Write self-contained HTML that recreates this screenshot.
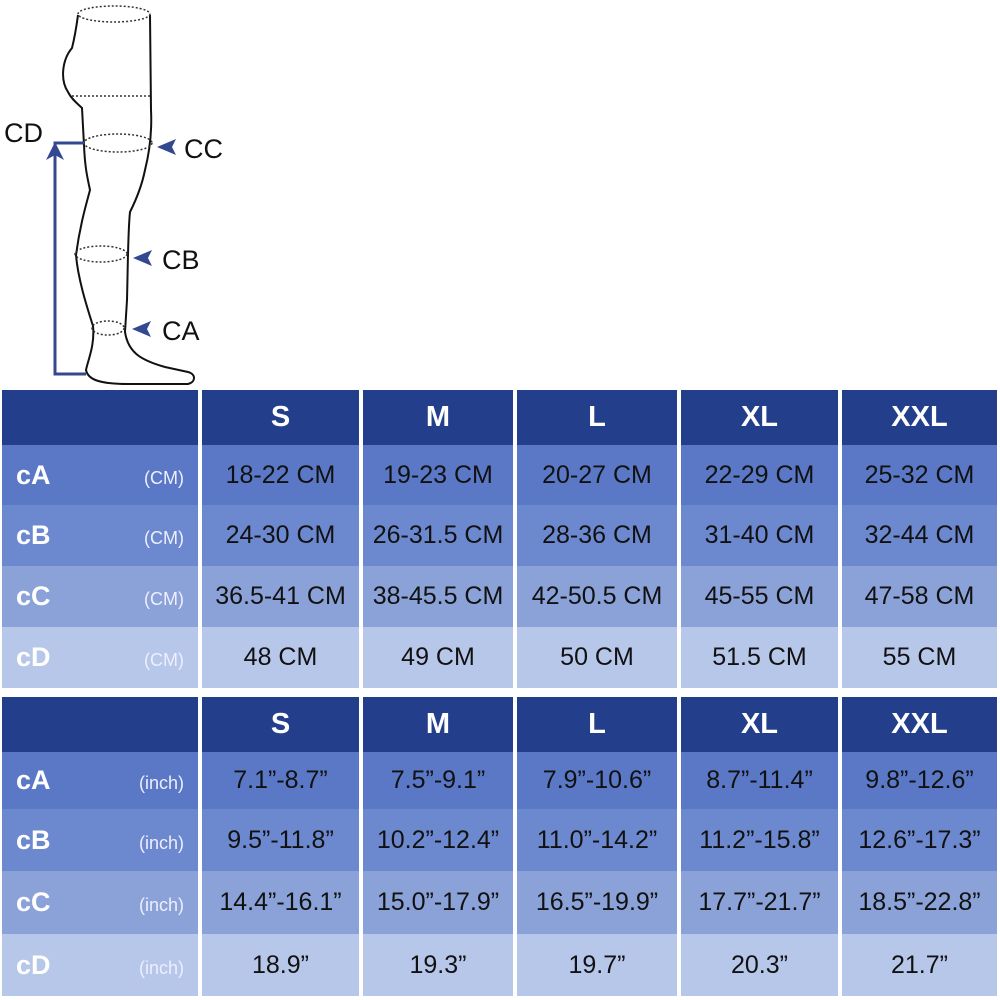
<!DOCTYPE html>
<html><head><meta charset="utf-8">
<style>
*{margin:0;padding:0;box-sizing:border-box}
body{width:1000px;height:1000px;background:#fff;position:relative;overflow:hidden;font-family:"Liberation Sans",Arial,sans-serif}
.t{position:absolute;left:2px;width:995px;display:grid;grid-template-columns:196px 157px 150px 160px 157px 155px;column-gap:4px;background:#fff}
.t div{display:flex;align-items:center;justify-content:center;font-size:25px;color:#111}
.h{background:#233f8b;color:#fff!important;font-weight:bold;font-size:29px!important}
.a{background:#5a78c6}.b{background:#6c88cf}.c{background:#8ba2d8}.d{background:#b7c7ea}
.t div.l{justify-content:space-between;padding:0 14px 0 14px;color:#fff;font-weight:bold;font-size:27px}
.l span{font-weight:normal;font-size:18px;color:#eef;margin-top:6px}
</style></head><body>
<svg width="240" height="390" style="position:absolute;left:0;top:0">
<g fill="none" stroke="#111" stroke-width="2">
<path d="M78,15 C76,30 74,40 72,48 C62,60 60,80 68,92 C72,100 78,104 82,108 L84,145 C85,170 88,180 90,190 C86,205 80,225 76,255 C78,280 88,310 93,326 C95,345 88,360 86,370 C88,380 100,384 130,384 L188,384 C196,382 196,374 188,372 L165,367 C140,360 128,352 125,332 L127,300 C128,260 128,230 130,212 C136,200 142,185 145,170 C150,150 152,130 151,110 L150,15"/>
</g>
<g fill="none" stroke="#333" stroke-width="1.5" stroke-dasharray="2,2">
<ellipse cx="114" cy="14" rx="36" ry="8"/>
<line x1="72" y1="96" x2="152" y2="96"/>
<ellipse cx="118" cy="143" rx="34" ry="9"/>
<ellipse cx="101" cy="254" rx="26" ry="8"/>
<ellipse cx="108" cy="328" rx="16" ry="7"/>
</g>
<path d="M84,143 L55,143 L55,374 L86,374" fill="none" stroke="#34488f" stroke-width="3"/>
<path d="M55,142 L46,160 L55,155 L64,160Z" fill="#34488f"/>
<path d="M157,147 L176,139 L172,147 L176,155Z" fill="#34488f"/>
<path d="M133,258 L152,250 L148,258 L152,266Z" fill="#34488f"/>
<path d="M132,329 L151,321 L147,329 L151,337Z" fill="#34488f"/>
<g font-family="Liberation Sans,sans-serif" font-size="27" fill="#111">
<text x="4" y="142">CD</text>
<text x="184" y="158">CC</text>
<text x="162" y="269">CB</text>
<text x="162" y="340">CA</text>
</g>
</svg>

<div class="t" style="top:390px;grid-template-rows:55px 60px 61px 61px 61px">
<div class="h"></div><div class="h">S</div><div class="h">M</div><div class="h">L</div><div class="h">XL</div><div class="h">XXL</div>
<div class="l a">cA<span>(CM)</span></div><div class="a">18-22 CM</div><div class="a">19-23 CM</div><div class="a">20-27 CM</div><div class="a">22-29 CM</div><div class="a">25-32 CM</div>
<div class="l b">cB<span>(CM)</span></div><div class="b">24-30 CM</div><div class="b">26-31.5 CM</div><div class="b">28-36 CM</div><div class="b">31-40 CM</div><div class="b">32-44 CM</div>
<div class="l c">cC<span>(CM)</span></div><div class="c">36.5-41 CM</div><div class="c">38-45.5 CM</div><div class="c">42-50.5 CM</div><div class="c">45-55 CM</div><div class="c">47-58 CM</div>
<div class="l d">cD<span>(CM)</span></div><div class="d">48 CM</div><div class="d">49 CM</div><div class="d">50 CM</div><div class="d">51.5 CM</div><div class="d">55 CM</div>
</div>

<div class="t" style="top:697px;grid-template-rows:55px 57px 62px 63px 62px">
<div class="h"></div><div class="h">S</div><div class="h">M</div><div class="h">L</div><div class="h">XL</div><div class="h">XXL</div>
<div class="l a">cA<span>(inch)</span></div><div class="a">7.1”-8.7”</div><div class="a">7.5”-9.1”</div><div class="a">7.9”-10.6”</div><div class="a">8.7”-11.4”</div><div class="a">9.8”-12.6”</div>
<div class="l b">cB<span>(inch)</span></div><div class="b">9.5”-11.8”</div><div class="b">10.2”-12.4”</div><div class="b">11.0”-14.2”</div><div class="b">11.2”-15.8”</div><div class="b">12.6”-17.3”</div>
<div class="l c">cC<span>(inch)</span></div><div class="c">14.4”-16.1”</div><div class="c">15.0”-17.9”</div><div class="c">16.5”-19.9”</div><div class="c">17.7”-21.7”</div><div class="c">18.5”-22.8”</div>
<div class="l d">cD<span>(inch)</span></div><div class="d">18.9”</div><div class="d">19.3”</div><div class="d">19.7”</div><div class="d">20.3”</div><div class="d">21.7”</div>
</div>
</body></html>
